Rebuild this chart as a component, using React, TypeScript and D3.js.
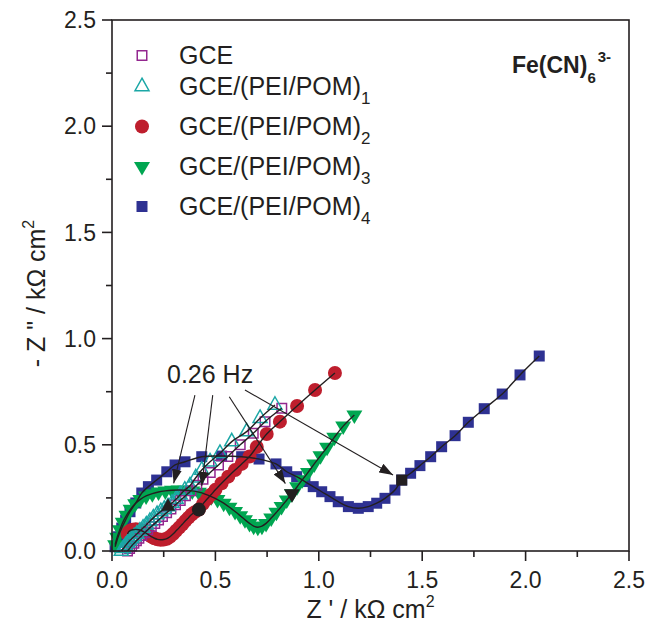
import React from 'react';
import * as d3 from 'd3';

// ---------- data ----------
const X_DOMAIN: [number, number] = [0, 2.5];
const Y_DOMAIN: [number, number] = [0, 2.5];
const MAJOR_TICKS = [0, 0.5, 1.0, 1.5, 2.0, 2.5];
const MINOR_TICKS = [0.25, 0.75, 1.25, 1.75, 2.25];

const gce: [number, number][] = [
  [0.075, 0.0], [0.085, 0.012], [0.095, 0.024], [0.106, 0.036], [0.118, 0.048], [0.13, 0.06],
  [0.144, 0.073], [0.158, 0.086], [0.173, 0.1], [0.19, 0.115], [0.207, 0.13], [0.225, 0.146],
  [0.244, 0.163], [0.264, 0.18], [0.285, 0.198], [0.307, 0.218], [0.33, 0.238], [0.355, 0.26],
  [0.382, 0.284], [0.41, 0.31], [0.44, 0.338], [0.475, 0.37], [0.515, 0.405], [0.56, 0.445],
  [0.62, 0.5], [0.683, 0.554], [0.74, 0.609], [0.821, 0.672],
];

const pp1: [number, number][] = [
  [0.045, 0.0], [0.055, 0.012], [0.065, 0.025], [0.075, 0.037], [0.085, 0.048], [0.095, 0.058],
  [0.107, 0.068], [0.12, 0.08], [0.135, 0.094], [0.15, 0.108], [0.166, 0.123], [0.183, 0.14],
  [0.2, 0.156], [0.218, 0.172], [0.236, 0.186], [0.253, 0.197], [0.271, 0.209], [0.29, 0.226],
  [0.31, 0.245], [0.33, 0.265], [0.352, 0.287], [0.377, 0.307], [0.405, 0.345], [0.434, 0.381],
  [0.474, 0.42], [0.522, 0.46], [0.579, 0.515], [0.651, 0.562], [0.716, 0.625], [0.788, 0.687],
];

const pp2: [number, number][] = [
  [0.075, 0.08], [0.08, 0.09], [0.09, 0.097], [0.1, 0.1], [0.115, 0.102], [0.13, 0.1],
  [0.145, 0.095], [0.16, 0.087], [0.175, 0.077], [0.19, 0.068], [0.205, 0.06], [0.22, 0.055],
  [0.235, 0.053], [0.25, 0.054], [0.265, 0.058], [0.28, 0.067], [0.295, 0.08], [0.31, 0.095],
  [0.325, 0.11], [0.34, 0.126], [0.355, 0.142], [0.37, 0.157], [0.385, 0.172], [0.4, 0.183],
  [0.42, 0.195], [0.44, 0.222], [0.46, 0.245], [0.48, 0.266], [0.5, 0.288], [0.53, 0.319],
  [0.562, 0.35], [0.595, 0.381], [0.627, 0.41], [0.665, 0.445], [0.7, 0.49], [0.748, 0.551],
  [0.812, 0.609], [0.895, 0.683], [0.982, 0.758], [1.078, 0.838],
];

const pp3: [number, number][] = [
  [0.015, 0.03], [0.025, 0.065], [0.038, 0.1], [0.052, 0.135], [0.07, 0.168], [0.09, 0.197],
  [0.112, 0.222], [0.137, 0.243], [0.165, 0.259], [0.195, 0.27], [0.225, 0.278], [0.258, 0.283],
  [0.29, 0.286], [0.322, 0.287], [0.355, 0.286], [0.388, 0.283], [0.42, 0.277], [0.45, 0.268],
  [0.48, 0.256], [0.51, 0.242], [0.54, 0.225], [0.568, 0.206], [0.595, 0.186], [0.62, 0.166],
  [0.643, 0.147], [0.665, 0.13], [0.685, 0.117], [0.705, 0.112], [0.725, 0.117], [0.745, 0.13],
  [0.77, 0.155], [0.795, 0.182], [0.82, 0.21], [0.845, 0.24], [0.87, 0.27], [0.895, 0.302],
  [0.92, 0.335], [0.948, 0.37], [0.978, 0.41], [1.008, 0.448], [1.04, 0.488], [1.075, 0.535],
  [1.118, 0.588], [1.172, 0.64],
];

const pp4: [number, number][] = [
  [0.015, 0.02], [0.03, 0.067], [0.047, 0.108], [0.066, 0.146], [0.087, 0.185], [0.115, 0.226],
  [0.144, 0.273], [0.176, 0.303], [0.216, 0.334], [0.265, 0.373], [0.305, 0.405], [0.353, 0.42],
  [0.434, 0.444], [0.53, 0.447], [0.627, 0.444], [0.711, 0.433], [0.793, 0.41], [0.845, 0.373],
  [0.893, 0.35], [0.933, 0.327], [0.973, 0.303], [1.014, 0.279], [1.054, 0.256], [1.094, 0.232],
  [1.143, 0.209], [1.191, 0.201], [1.239, 0.209], [1.28, 0.225], [1.32, 0.248], [1.368, 0.287],
  [1.401, 0.334], [1.444, 0.366], [1.489, 0.402], [1.541, 0.444], [1.594, 0.491], [1.659, 0.543],
  [1.723, 0.606], [1.8, 0.67], [1.887, 0.739], [1.973, 0.829], [2.066, 0.918],
];

// points measured at 0.26 Hz (teal, red, green, blue)
const hz026: [number, number][] = [[0.271, 0.209], [0.42, 0.195], [0.87, 0.27], [1.401, 0.334]];
const hzShapes = ['triUp', 'circle', 'triDown', 'square'];
// annotation arrow start points (data units) and how far each stops short (px)
const arrowStarts: [number, number][] = [[0.401, 0.734], [0.487, 0.734], [0.567, 0.726], [0.643, 0.758]];
const arrowGaps = [24, 24, 12, 10];

const LEGEND_BASE = ['GCE', 'GCE/(PEI/POM)', 'GCE/(PEI/POM)', 'GCE/(PEI/POM)', 'GCE/(PEI/POM)'];
const LEGEND_SUB = ['', '1', '2', '3', '4'];

// ---------- styling ----------
const C_PURPLE = '#93278f';
const C_TEAL = '#1ba7a6';
const C_RED = '#be1e2d';
const C_GREEN = '#00a651';
const C_BLUE = '#2e3192';
const C_BLACK = '#231f20';
const FONT = '"Liberation Sans", Arial, Helvetica, sans-serif';

function markerPath(shape: string): string {
  switch (shape) {
    case 'square': {
      const s = 11;
      return `M${-s / 2},${-s / 2}h${s}v${s}h${-s}Z`;
    }
    case 'squareOpen': {
      const s = 9.5;
      return `M${-s / 2},${-s / 2}h${s}v${s}h${-s}Z`;
    }
    case 'triUp': {
      const w = 14, h = 12.5;
      return `M0,${-2 * h / 3}L${w / 2},${h / 3}L${-w / 2},${h / 3}Z`;
    }
    case 'triDown': {
      const w = 16, h = 13.5;
      return `M0,${2 * h / 3}L${w / 2},${-h / 3}L${-w / 2},${-h / 3}Z`;
    }
    default:
      return d3.symbol(d3.symbolCircle, Math.PI * 7 * 7)() as string;
  }
}

const SERIES = [
  { data: pp4, shape: 'square', fill: C_BLUE, stroke: 'none' },
  { data: pp3, shape: 'triDown', fill: C_GREEN, stroke: 'none' },
  { data: pp2, shape: 'circle', fill: C_RED, stroke: 'none' },
  { data: gce, shape: 'squareOpen', fill: 'none', stroke: C_PURPLE },
  { data: pp1, shape: 'triUp', fill: 'none', stroke: C_TEAL },
];
const LEGEND_STYLE = [
  { shape: 'squareOpen', fill: 'none', stroke: C_PURPLE },
  { shape: 'triUp', fill: 'none', stroke: C_TEAL },
  { shape: 'circle', fill: C_RED, stroke: 'none' },
  { shape: 'triDown', fill: C_GREEN, stroke: 'none' },
  { shape: 'square', fill: C_BLUE, stroke: 'none' },
];

export default function App() {
  const W = 651, H = 631;
  const left = 112, right = 629, top = 20, bottom = 551;
  const x = d3.scaleLinear().domain(X_DOMAIN).range([left, right]);
  const y = d3.scaleLinear().domain(Y_DOMAIN).range([bottom, top]);
  const line = d3.line<[number, number]>()
    .x(d => x(d[0]))
    .y(d => y(d[1]))
    .curve(d3.curveCatmullRom.alpha(0.5));

  const legendY = [64, 95, 135, 175, 215];

  return (
    <svg width={W} height={H} style={{ position: 'absolute', left: 0, top: 0, background: '#fff' }}
      fontFamily={FONT}>
      <defs>
        <marker id="ah" viewBox="0 0 14 10" refX="14" refY="5" markerWidth="14" markerHeight="10"
          markerUnits="userSpaceOnUse" orient="auto">
          <path d="M0,0L14,5L0,10Z" fill={C_BLACK} />
        </marker>
      </defs>
      <rect width={W} height={H} fill="#fff" />

      {/* series markers */}
      {SERIES.map((s, i) => (
        <g key={i}>
          {s.data.map((d, j) => (
            <path key={j} d={markerPath(s.shape)} transform={`translate(${x(d[0])},${y(d[1])})`}
              fill={s.fill} stroke={s.stroke} strokeWidth={1.5} />
          ))}
        </g>
      ))}

      {/* fit lines */}
      {SERIES.map((s, i) => (
        <path key={i} d={line(s.data) as string} fill="none" stroke={C_BLACK} strokeWidth={1.4} />
      ))}

      {/* 0.26 Hz markers */}
      {hz026.map((d, i) => (
        <path key={i} d={markerPath(hzShapes[i])} transform={`translate(${x(d[0])},${y(d[1])})`}
          fill={C_BLACK} />
      ))}

      {/* arrows */}
      {arrowStarts.map((s, i) => {
        const x0 = x(s[0]), y0 = y(s[1]);
        const x1 = x(hz026[i][0]), y1 = y(hz026[i][1]);
        const len = Math.hypot(x1 - x0, y1 - y0);
        const t = (len - arrowGaps[i]) / len;
        return (
          <line key={i} x1={x0} y1={y0} x2={x0 + (x1 - x0) * t} y2={y0 + (y1 - y0) * t}
            stroke={C_BLACK} strokeWidth={1.1} markerEnd="url(#ah)" />
        );
      })}
      <text x={167} y={383} fontSize={25} fill={C_BLACK}>0.26 Hz</text>

      {/* frame */}
      <rect x={left} y={top} width={right - left} height={bottom - top} fill="none" stroke={C_BLACK} strokeWidth={1.6} />

      {/* x ticks */}
      {MAJOR_TICKS.map(t => (
        <g key={'xm' + t}>
          <line x1={x(t)} x2={x(t)} y1={bottom} y2={bottom + 10} stroke={C_BLACK} strokeWidth={1.6} />
          <text x={x(t)} y={588} fontSize={23} textAnchor="middle" fill={C_BLACK}>{t.toFixed(1)}</text>
        </g>
      ))}
      {MINOR_TICKS.map(t => (
        <line key={'xn' + t} x1={x(t)} x2={x(t)} y1={bottom} y2={bottom + 6} stroke={C_BLACK} strokeWidth={1.6} />
      ))}
      {/* y ticks */}
      {MAJOR_TICKS.map(t => (
        <g key={'ym' + t}>
          <line x1={left - 10} x2={left} y1={y(t)} y2={y(t)} stroke={C_BLACK} strokeWidth={1.6} />
          <text x={96} y={y(t)} dy="0.36em" fontSize={23} textAnchor="end" fill={C_BLACK}>{t.toFixed(1)}</text>
        </g>
      ))}
      {MINOR_TICKS.map(t => (
        <line key={'yn' + t} x1={left - 6} x2={left} y1={y(t)} y2={y(t)} stroke={C_BLACK} strokeWidth={1.6} />
      ))}

      {/* axis titles */}
      <text x={(left + right) / 2} y={618} fontSize={25} textAnchor="middle" fill={C_BLACK}>
        Z ' / kΩ cm<tspan dy={-11} fontSize={16}>2</tspan>
      </text>
      <text transform={`translate(45,${(top + bottom) / 2 + 8}) rotate(-90)`} fontSize={25} textAnchor="middle" fill={C_BLACK}>
        - Z " / kΩ cm<tspan dy={-11} fontSize={16}>2</tspan>
      </text>

      {/* legend */}
      {LEGEND_BASE.map((name, i) => (
        <g key={i}>
          <path d={markerPath(LEGEND_STYLE[i].shape)} transform={`translate(142,${legendY[i] - 8.5})`}
            fill={LEGEND_STYLE[i].fill} stroke={LEGEND_STYLE[i].stroke} strokeWidth={1.5} />
          <text x={179} y={legendY[i]} fontSize={25} fill={C_BLACK}>
            {name}
            {LEGEND_SUB[i] && <tspan dy={9} fontSize={17}>{LEGEND_SUB[i]}</tspan>}
          </text>
        </g>
      ))}

      {/* Fe(CN)6 3- */}
      <text x={512} y={73} fontSize={23} fontWeight="bold" fill={C_BLACK}>
        Fe(CN)<tspan dy={10} fontSize={15}>6</tspan><tspan dy={-21} dx={2} fontSize={15}>3-</tspan>
      </text>
    </svg>
  );
}
